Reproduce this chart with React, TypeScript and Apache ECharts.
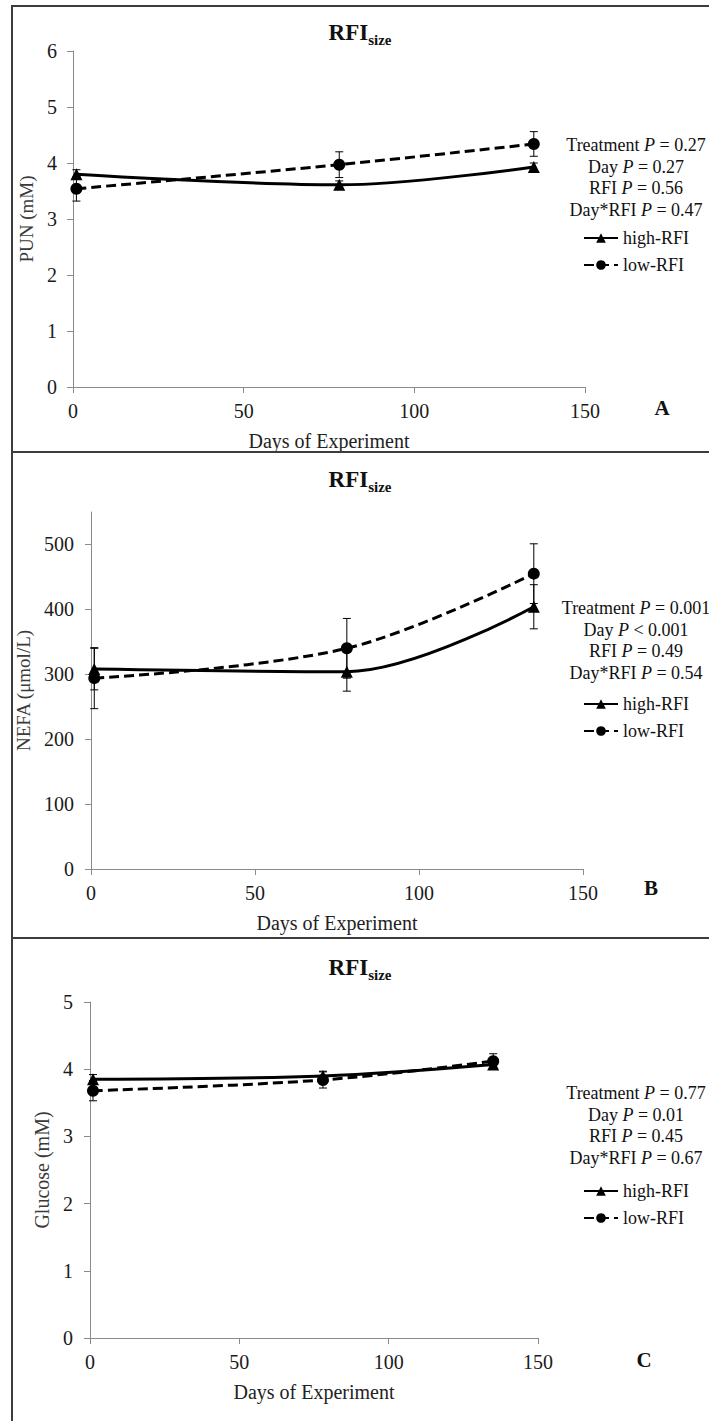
import React, { useEffect, useRef } from "react";
import * as echarts from "echarts";

// ---------- data ----------
const days = [1, 78, 135];

const punHigh = [3.8, 3.61, 3.93];
const punHighSE = [0.08, 0.07, 0.07];
const punLow = [3.54, 3.97, 4.34];
const punLowSE = [0.22, 0.23, 0.22];

const nefaHigh = [308, 304, 404];
const nefaHighSE = [32, 30, 34];
const nefaLow = [294, 340, 455];
const nefaLowSE = [47, 46, 46];

const gluHigh = [3.85, 3.9, 4.07];
const gluHighSE = [0.07, 0.07, 0.05];
const gluLow = [3.68, 3.84, 4.12];
const gluLowSE = [0.15, 0.12, 0.11];

const seriesNames = ["high-RFI", "low-RFI"];
const panelLetters = ["A", "B", "C"];
const yNames = ["PUN (mM)", "NEFA (μmol/L)", "Glucose (mM)"];
const xName = "Days of Experiment";
const statLabels = ["Treatment", "Day", "RFI", "Day*RFI"];
const statsA = ["= 0.27", "= 0.27", "= 0.56", "= 0.47"];
const statsB = ["= 0.001", "< 0.001", "= 0.49", "= 0.54"];
const statsC = ["= 0.77", "= 0.01", "= 0.45", "= 0.67"];

// ---------- layout ----------
const FONT = "Liberation Serif";

const panels = [
  {
    grid: { left: 73, top: 51, width: 512, height: 336 },
    y: { min: 0, max: 6, interval: 1 },
    high: punHigh, highSE: punHighSE, low: punLow, lowSE: punLowSE,
    stats: statsA, yName: yNames[0], yNameGap: 35, labelMargin: 16,
    titleY: 21, statsY: 134, legendTop: 224, letter: [662, 408],
  },
  {
    grid: { left: 91, top: 512, width: 492, height: 357 },
    y: { min: 0, max: 550, interval: 100 },
    high: nefaHigh, highSE: nefaHighSE, low: nefaLow, lowSE: nefaLowSE,
    stats: statsB, yName: yNames[1], yNameGap: 55, labelMargin: 17,
    titleY: 468, statsY: 597, legendTop: 690, letter: [651, 888],
  },
  {
    grid: { left: 90, top: 1002, width: 448, height: 336 },
    y: { min: 0, max: 5, interval: 1 },
    high: gluHigh, highSE: gluHighSE, low: gluLow, lowSE: gluLowSE,
    stats: statsC, yName: yNames[2], yNameGap: 34, labelMargin: 17,
    titleY: 956, statsY: 1082, legendTop: 1177, letter: [644, 1360],
  },
];

const errorRender = (params: any, api: any) => {
  const x = api.value(0);
  const lo = api.coord([x, api.value(1)]);
  const hi = api.coord([x, api.value(2)]);
  const w = 4;
  const style = { stroke: "#000", lineWidth: 1 };
  return {
    type: "group",
    children: [
      { type: "line", shape: { x1: lo[0], y1: lo[1], x2: hi[0], y2: hi[1] }, style },
      { type: "line", shape: { x1: lo[0] - w, y1: lo[1], x2: lo[0] + w, y2: lo[1] }, style },
      { type: "line", shape: { x1: hi[0] - w, y1: hi[1], x2: hi[0] + w, y2: hi[1] }, style },
    ],
  };
};

function buildOption() {
  const grid: any[] = [];
  const xAxis: any[] = [];
  const yAxis: any[] = [];
  const series: any[] = [];
  const legend: any[] = [];
  const graphic: any[] = [];

  const axisLine = { show: true, onZero: false, lineStyle: { color: "#8a8a8a", width: 1 } };
  const axisTick = { show: true, length: 6, inside: false, lineStyle: { color: "#8a8a8a" } };

  panels.forEach((p, i) => {
    grid.push({ ...p.grid, outerBoundsMode: "none", containLabel: false });
    xAxis.push({
      type: "value",
      gridIndex: i,
      min: 0,
      max: 150,
      interval: 50,
      axisLine,
      axisTick,
      splitLine: { show: false },
      axisLabel: { fontFamily: FONT, fontSize: 20, color: "#1a1a1a", margin: 14 },
      name: xName,
      nameLocation: "middle",
      nameGap: 44,
      nameTextStyle: { fontFamily: FONT, fontSize: 20, color: "#222" },
    });
    yAxis.push({
      type: "value",
      gridIndex: i,
      min: p.y.min,
      max: p.y.max,
      interval: p.y.interval,
      axisLine,
      axisTick,
      splitLine: { show: false },
      axisLabel: {
        fontFamily: FONT,
        fontSize: 20,
        color: "#1a1a1a",
        margin: p.labelMargin,
        showMaxLabel: i === 1 ? false : true,
      },
      name: p.yName,
      nameLocation: "middle",
      nameGap: p.yNameGap,
      nameTextStyle: { fontFamily: FONT, fontSize: i === 2 ? 20 : 19, color: "#3a3a3a" },
    });

    series.push({
      type: "custom",
      name: "err-high-" + i,
      xAxisIndex: i,
      yAxisIndex: i,
      renderItem: errorRender,
      encode: { x: 0, y: [1, 2] },
      data: days.map((d, j) => [d, p.high[j] - p.highSE[j], p.high[j] + p.highSE[j]]),
      z: 1,
      silent: true,
    });
    series.push({
      type: "custom",
      name: "err-low-" + i,
      xAxisIndex: i,
      yAxisIndex: i,
      renderItem: errorRender,
      encode: { x: 0, y: [1, 2] },
      data: days.map((d, j) => [d, p.low[j] - p.lowSE[j], p.low[j] + p.lowSE[j]]),
      z: 1,
      silent: true,
    });
    series.push({
      type: "line",
      name: seriesNames[0],
      xAxisIndex: i,
      yAxisIndex: i,
      data: days.map((d, j) => [d, p.high[j]]),
      smooth: 0.35,
      symbol: "triangle",
      symbolSize: 12,
      showAllSymbol: true,
      lineStyle: { color: "#000", width: 3, type: "solid" },
      itemStyle: { color: "#000" },
      z: 3,
    });
    series.push({
      type: "line",
      name: seriesNames[1],
      xAxisIndex: i,
      yAxisIndex: i,
      data: days.map((d, j) => [d, p.low[j]]),
      smooth: 0.35,
      symbol: "circle",
      symbolSize: 12,
      showAllSymbol: true,
      lineStyle: { color: "#000", width: 3, type: [10, 5] },
      itemStyle: { color: "#000" },
      z: 3,
    });

    legend.push({
      orient: "vertical",
      left: 578,
      top: p.legendTop,
      itemWidth: 34,
      itemHeight: 12,
      itemGap: 9,
      selectedMode: false,
      data: seriesNames,
      textStyle: { fontFamily: FONT, fontSize: 18, color: "#111" },
    });

    // title RFI_size
    graphic.push({
      type: "text",
      x: 360,
      y: p.titleY,
      style: {
        text: "{b|RFI}{s|size}",
        align: "center",
        verticalAlign: "top",
        rich: {
          b: { fontFamily: FONT, fontWeight: "bold", fontSize: 23, lineHeight: 26, verticalAlign: "bottom", padding: [0, 0, 3, 0], fill: "#111" },
          s: { fontFamily: FONT, fontWeight: "bold", fontSize: 15, lineHeight: 17, verticalAlign: "bottom", fill: "#111" },
        },
      },
    });

    // statistics
    const statText = statLabels
      .map((lab, k) => `{a|${lab} }{i|P}{a| ${p.stats[k]}}`)
      .join("\n");
    graphic.push({
      type: "text",
      x: 636,
      y: p.statsY,
      style: {
        text: statText,
        align: "center",
        verticalAlign: "top",
        rich: {
          a: { fontFamily: FONT, fontSize: 18, lineHeight: 21.7, fill: "#111" },
          i: { fontFamily: FONT, fontSize: 18, fontStyle: "italic", lineHeight: 21.7, fill: "#111" },
        },
      },
    });

    // panel letter
    graphic.push({
      type: "text",
      x: p.letter[0],
      y: p.letter[1],
      style: {
        text: panelLetters[i],
        align: "center",
        verticalAlign: "middle",
        fontFamily: FONT,
        fontWeight: "bold",
        fontSize: 21,
        fill: "#111",
      },
    });
  });

  // panel borders
  const border = { stroke: "#3c3c3c", lineWidth: 2 };
  graphic.push({ type: "line", shape: { x1: 12, y1: 6, x2: 12, y2: 1421 }, style: border, z: 10 });
  [6, 452, 938].forEach((y) => {
    graphic.push({ type: "line", shape: { x1: 11, y1: y, x2: 709, y2: y }, style: border, z: 10 });
  });

  return {
    animation: false,
    backgroundColor: "#fff",
    grid,
    xAxis,
    yAxis,
    series,
    legend,
    graphic,
  };
}

export default function App() {
  const ref = useRef<HTMLDivElement>(null);
  useEffect(() => {
    if (!ref.current) return;
    const chart = echarts.init(ref.current, undefined, { renderer: "svg" });
    chart.setOption(buildOption() as any);
    return () => chart.dispose();
  }, []);
  return (
    <div
      ref={ref}
      style={{ position: "absolute", left: 0, top: 0, width: 709, height: 1421 }}
    />
  );
}
